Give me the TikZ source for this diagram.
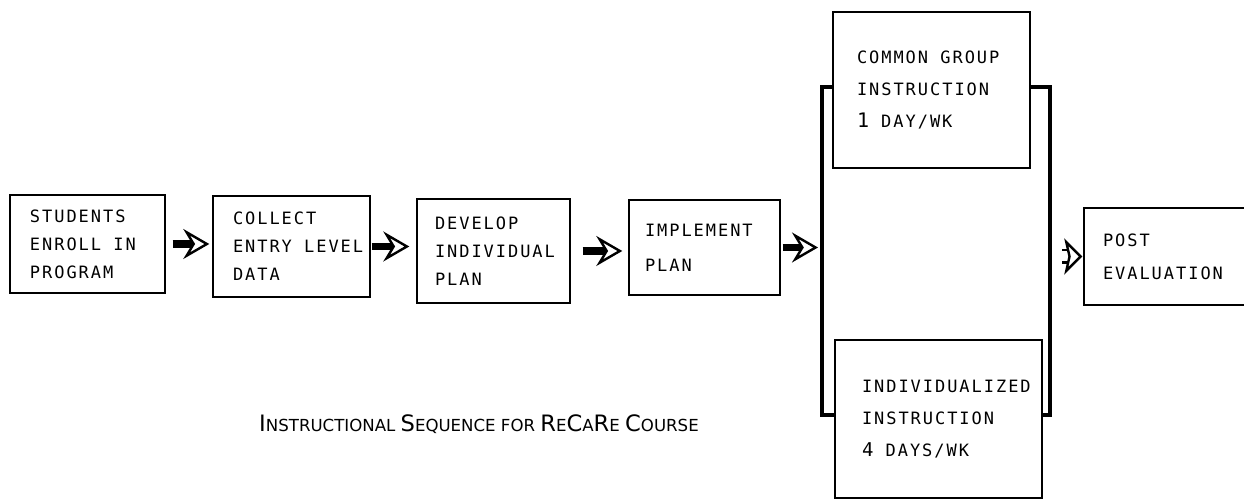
\documentclass[tikz,border=0pt]{standalone}
\usepackage{fontspec}
\newfontfamily\rcmono[LetterSpace=11.5]{DejaVu Sans Mono}
\newfontfamily\rcsans{DejaVu Sans}
\usetikzlibrary{arrows.meta}
\newcommand{\rcsize}[1]{\rcmono\fontsize{8.5}{#1}\selectfont}
% word gap of the letter-spaced mono font
\newcommand{\rcgap}{\kern6.1pt}
\tikzset{
  rcbox/.style={draw,line width=0.7pt,inner xsep=0pt,inner ysep=2pt,align=left,font=\rcsize{14}},
  rcflow/.style={line width=3.8pt,-{Stealth[open,line width=1.2pt,length=13pt,width=15pt,inset=4.5pt]}},
  rcopen/.style={double,line width=1.1pt,double distance=5pt,-{Stealth[open,line width=1.2pt,length=9pt,width=18pt,inset=2pt]}},
  rcbar/.style={line width=1.6pt},
  rclabel/.style={font=\rcsans\fontsize{8.3}{10}\selectfont},
}
\newcommand{\bigc}[1]{{\fontsize{11.3}{12}\selectfont #1}}

\begin{document}
\begin{tikzpicture}[x=0.5pt,y=-0.5pt]
\useasboundingbox (0,0) rectangle (1244,501);
% main sequence
\node[rcbox,minimum width=77.5pt,minimum height=49pt,text width=57.5pt](stu) at (87.5,244){STUDENTS\\ENROLL\rcgap IN\\PROGRAM};
\node[rcbox,minimum width=78.5pt,minimum height=50.5pt,text width=58.5pt](col) at (291.5,246.5){COLLECT\\ENTRY\rcgap LEVEL\\DATA};
\node[rcbox,minimum width=76.5pt,minimum height=52pt,text width=58.5pt](dev) at (493.5,251){DEVELOP\\INDIVIDUAL\\PLAN};
\node[rcbox,minimum width=75.5pt,minimum height=47.5pt,text width=59.5pt,font=\rcsize{17.5}](imp) at (704.5,247.5){IMPLEMENT\\PLAN};
% the two kinds of instruction
\node[rcbox,minimum width=98.5pt,minimum height=78pt,text width=74.5pt,font=\rcsize{16}](grp) at (931.5,90){COMMON\rcgap GROUP\\INSTRUCTION\\{\fontsize{10}{10}\selectfont 1}\rcgap DAY/WK};
\node[rcbox,minimum width=103.5pt,minimum height=79pt,text width=76.5pt,font=\rcsize{16}](ind) at (938.5,419){INDIVIDUALIZED\\INSTRUCTION\\{\fontsize{9.5}{10}\selectfont 4}\rcgap DAYS/WK};
\node[rcbox,minimum width=85pt,minimum height=48.5pt,text width=66pt,font=\rcsize{16.5}](pst) at (1169,256.5){POST\\EVALUATION};
% brackets
\coordinate (ltop) at (822,87);
\coordinate (lbot) at (822,415);
\coordinate (rtop) at (1050,87);
\coordinate (rbot) at (1050,415);
\draw[rcbar](grp.west|-ltop)--(ltop)--(lbot)--(ind.west|-lbot);
\draw[rcbar](grp.east|-rtop)--(rtop)--(rbot)--(ind.east|-rbot);
% arrows
\draw[rcflow,shorten <=3.5pt,shorten >=1.5pt](stu.east)--(stu.east-|col.west);
\draw[rcflow,shorten <=0.5pt,shorten >=3.5pt](col.east)--(col.east-|dev.west);
\draw[rcflow,shorten <=6pt,shorten >=3pt](dev.east)--(dev.east-|imp.west);
\draw[rcflow,shorten <=1pt,shorten >=2pt](imp.east)--(imp.east-|ltop);
\draw[rcopen,shorten <=6pt,shorten >=0.5pt](rtop|-pst.west)--(pst.west);
% caption
\node[rclabel](cap) at (479,424){\bigc{I}NSTRUCTIONAL \bigc{S}EQUENCE FOR \bigc{R}E\bigc{C}A\bigc{R}E \bigc{C}OURSE};
\end{tikzpicture}
\end{document}
